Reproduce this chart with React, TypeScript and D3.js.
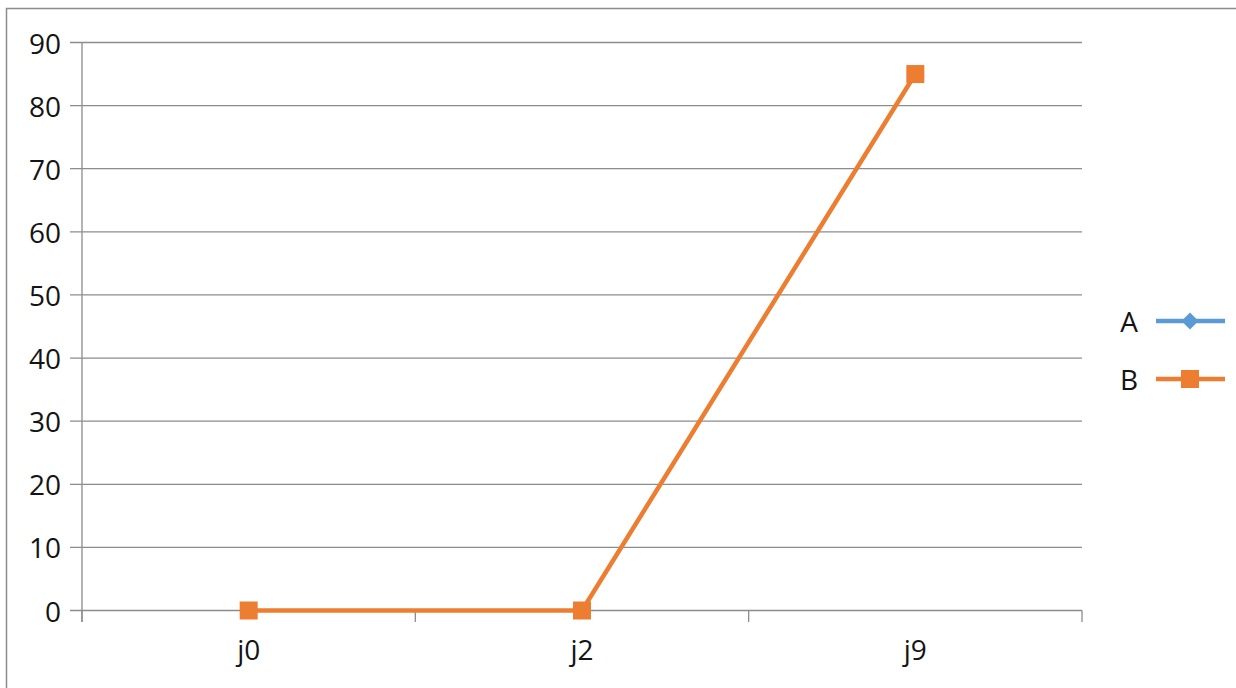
import React from "react";
import * as d3 from "d3";

const categories = ["j0", "j2", "j9"];
const seriesA: (number | null)[] = [null, null, null];
const seriesB: (number | null)[] = [0, 0, 85];
const yTicks = [0, 10, 20, 30, 40, 50, 60, 70, 80, 90];
const seriesNames = ["A", "B"];

const W = 1236;
const H = 688;
const FONT = "'Open Sans', sans-serif";
const TEXT = "#141414";
const GRID = "#8c8c8c";
const BLUE = "#5B9BD5";
const ORANGE = "#ED7D31";
const FS = 28;

export default function App() {
  const x = d3.scaleBand<string>().domain(categories).range([82, 1082]);
  const y = d3.scaleLinear().domain([0, 90]).range([610.5, 42.5]);
  const cx = (c: string) => (x(c) ?? 0) + x.bandwidth() / 2;

  const line = d3
    .line<{ c: string; v: number | null }>()
    .defined((d) => d.v !== null)
    .x((d) => cx(d.c))
    .y((d) => y(d.v as number));

  const ptsA = categories.map((c, i) => ({ c, v: seriesA[i] }));
  const ptsB = categories.map((c, i) => ({ c, v: seriesB[i] }));
  const bounds = [...categories.map((c) => x(c) ?? 0), 1082];

  const legendY = [321, 379];

  return (
    <svg
      width={W}
      height={H}
      style={{ position: "absolute", left: 0, top: 0, background: "#fff" }}
      fontFamily={FONT}
    >
      <rect x={6.5} y={8.5} width={W} height={H} fill="#fff" stroke="#8c8c8c" strokeWidth={1.5} />

      {/* horizontal gridlines with y ticks */}
      {yTicks.map((t) => (
        <g key={t}>
          <line x1={70} x2={1082} y1={y(t)} y2={y(t)} stroke={GRID} strokeWidth={1.3} />
          <text
            x={61}
            y={y(t)}
            textAnchor="end"
            dominantBaseline="central"
            fontSize={FS}
            fill={TEXT}
          >
            {t}
          </text>
        </g>
      ))}

      {/* y axis */}
      <line x1={82} x2={82} y1={y(90)} y2={622} stroke={GRID} strokeWidth={1.3} />

      {/* category boundary ticks */}
      {bounds.map((b, i) => (
        <line key={i} x1={b} x2={b} y1={y(0)} y2={622} stroke={GRID} strokeWidth={1.3} />
      ))}

      {categories.map((c) => (
        <text key={c} x={cx(c)} y={660} textAnchor="middle" fontSize={FS} fill={TEXT}>
          {c}
        </text>
      ))}

      {/* series A */}
      <path d={line(ptsA) ?? ""} fill="none" stroke={BLUE} strokeWidth={4.5} strokeLinejoin="round" />
      {ptsA
        .filter((d) => d.v !== null)
        .map((d) => (
          <rect
            key={d.c}
            x={-7}
            y={-7}
            width={14}
            height={14}
            fill={BLUE}
            transform={`translate(${cx(d.c)},${y(d.v as number)}) rotate(45)`}
          />
        ))}

      {/* series B */}
      <path d={line(ptsB) ?? ""} fill="none" stroke={ORANGE} strokeWidth={4.5} strokeLinejoin="round" />
      {ptsB
        .filter((d) => d.v !== null)
        .map((d) => (
          <rect
            key={d.c}
            x={cx(d.c) - 9}
            y={y(d.v as number) - 9}
            width={18}
            height={18}
            fill={ORANGE}
          />
        ))}

      {/* legend */}
      {seriesNames.map((n, i) => {
        const ly = legendY[i];
        const col = i === 0 ? BLUE : ORANGE;
        return (
          <g key={n}>
            <text x={1129} y={ly} textAnchor="middle" dominantBaseline="central" fontSize={FS} fill={TEXT}>
              {n}
            </text>
            <line x1={1156} x2={1225} y1={ly} y2={ly} stroke={col} strokeWidth={4.5} />
            {i === 0 ? (
              <rect x={-6} y={-6} width={12} height={12} fill={col} transform={`translate(1190,${ly}) rotate(45)`} />
            ) : (
              <rect x={1181} y={ly - 9} width={18} height={18} fill={col} />
            )}
          </g>
        );
      })}
    </svg>
  );
}
